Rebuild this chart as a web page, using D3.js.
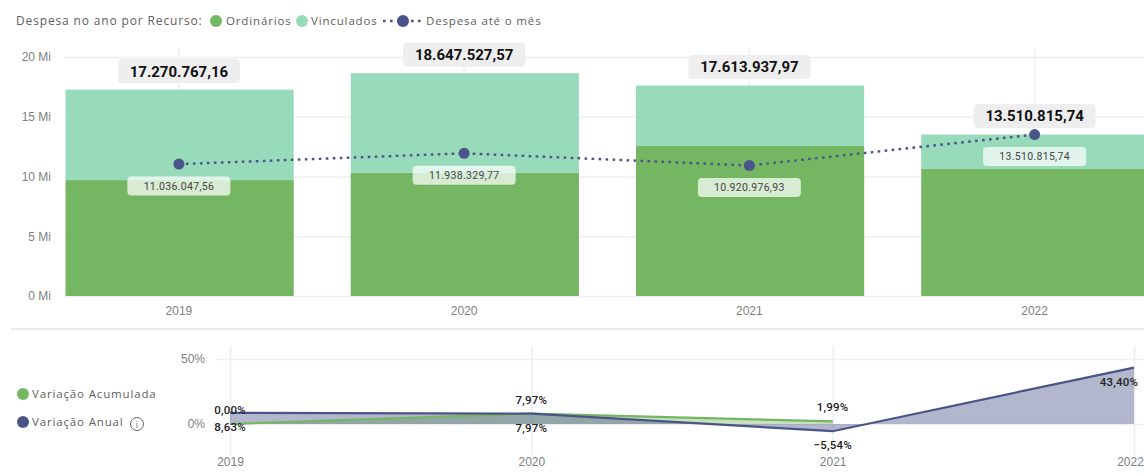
<!DOCTYPE html>
<html>
<head>
<meta charset="utf-8">
<script src="https://cdn.jsdelivr.net/npm/d3@7"></script>
<style>
body { margin: 0; background: #fff; overflow: hidden; }
svg { display: block; font-family: 'Open Sans', sans-serif; }
.axis path { display: none; }
.axis line { stroke: #efefef; stroke-width: 1.5px; }
.axis text { fill: #808080; font-size: 12px; }
.legend { fill: #606060; font-size: 11.5px; letter-spacing: .85px; }
.total { font-family: Roboto, sans-serif; font-weight: 700; font-size: 15px; fill: #111; text-anchor: middle; }
.lineLabel { font-family: Roboto, sans-serif; font-size: 10.5px; fill: #444; text-anchor: middle; letter-spacing: .3px; }
.pct { font-family: Roboto, sans-serif; font-weight: 500; font-size: 11.5px; fill: #222; text-anchor: middle; letter-spacing: .2px; }
</style>
</head>
<body>
<div id="chart"></div>
<script>
const years = ['2019', '2020', '2021', '2022']
const ordinarios = [9700000, 10300000, 12550000, 10630000]
const vinculados = [7570767.16, 8347527.57, 5063937.97, 2880815.74]
const totais = [17270767.16, 18647527.57, 17613937.97, 13510815.74]
const despesaMes = [11036047.56, 11938329.77, 10920976.93, 13510815.74]
const variacaoAnual = [8.63, 7.97, -5.54, 43.40]
const variacaoAcum = [0, 7.97, 1.99]
const yTicks = [0, 5, 10, 15, 20]
const pctTicks = [0, 50]

const green = '#74b662', mint = '#98dbbb', navy = '#4a5488'

const width = 1144, height = 476

const svg = d3.select('#chart').append('svg')
	.attr('width', width)
	.attr('height', height)

const br = d3.formatLocale({ decimal: ',', thousands: '.', grouping: [3], currency: ['R$', ''] })
const money = br.format(',.2f')
const pct = br.format('.2f')

// top chart
const x = d3.scaleBand().domain(years).range([65.5, 1149.4]).paddingInner(0.2)
const y = d3.scaleLinear().domain([0, 20000000]).range([296, 57])

svg.append('g')
	.attr('class', 'axis')
	.attr('transform', 'translate(65,0)')
	.call(d3.axisLeft(y).tickValues(yTicks.map(d => d * 1e6)).tickSize(-1079).tickPadding(14).tickFormat(d => (d / 1e6) + ' Mi'))

const xAxis = svg.append('g')
	.attr('class', 'axis')
	.attr('transform', 'translate(-0.7,296)')
	.call(d3.axisBottom(x).tickSize(-248).tickPadding(8))
xAxis.selectAll('text').attr('dy', '0.95em')

const rows = years.map((year, i) => ({ year, ordinarios: ordinarios[i], vinculados: vinculados[i] }))
const stack = d3.stack().keys(['ordinarios', 'vinculados'])(rows)
const colors = { ordinarios: green, vinculados: mint }

svg.append('g').selectAll('g')
	.data(stack)
	.join('g')
	.attr('fill', d => colors[d.key])
	.selectAll('rect')
	.data(d => d)
	.join('rect')
	.attr('x', d => x(d.data.year))
	.attr('y', d => y(d[1]))
	.attr('width', x.bandwidth())
	.attr('height', d => y(d[0]) - y(d[1]))

const cx = d => x(d) + x.bandwidth() / 2 - 0.7

const line = d3.line().x((d, i) => cx(years[i])).y(d => y(d))

svg.append('path')
	.attr('d', line(despesaMes))
	.attr('fill', 'none')
	.attr('stroke', navy)
	.attr('stroke-width', 2.4)
	.attr('stroke-dasharray', '2.6 4.4')

svg.append('g').selectAll('circle')
	.data(despesaMes)
	.join('circle')
	.attr('cx', (d, i) => cx(years[i]))
	.attr('cy', d => y(d))
	.attr('r', 5.5)
	.attr('fill', navy)

// labels of the line
const lineLabels = svg.append('g').selectAll('g')
	.data(despesaMes)
	.join('g')
	.attr('transform', (d, i) => `translate(${cx(years[i])},${y(d) + 22})`)
lineLabels.append('rect')
	.attr('x', -51.5).attr('y', -9.5).attr('width', 103).attr('height', 19).attr('rx', 4)
	.attr('fill', '#fff').attr('fill-opacity', 0.72)
lineLabels.append('text')
	.attr('class', 'lineLabel')
	.attr('dy', '0.36em')
	.text(d => money(d))

// totals
const totalLabels = svg.append('g').selectAll('g')
	.data(totais)
	.join('g')
	.attr('transform', (d, i) => `translate(${cx(years[i])},${y(d) - 18.5})`)
totalLabels.append('rect')
	.attr('x', -61).attr('y', -12).attr('width', 122).attr('height', 24).attr('rx', 4)
	.attr('fill', '#eeeeee')
totalLabels.append('text')
	.attr('class', 'total')
	.attr('dy', '0.36em')
	.text(d => money(d))

// legend
svg.append('text').attr('class', 'legend').attr('x', 16).attr('y', 25).style('font-size', '12px').text('Despesa no ano por Recurso:')
svg.append('circle').attr('cx', 216).attr('cy', 21).attr('r', 6).attr('fill', green)
svg.append('text').attr('class', 'legend').attr('x', 226).attr('y', 25).text('Ordinários')
svg.append('circle').attr('cx', 302).attr('cy', 21).attr('r', 6).attr('fill', mint)
svg.append('text').attr('class', 'legend').attr('x', 311).attr('y', 25).text('Vinculados')
svg.append('line').attr('x1', 383).attr('x2', 422).attr('y1', 21).attr('y2', 21)
	.attr('stroke', navy).attr('stroke-width', 2.4).attr('stroke-dasharray', '2.6 4.4')
svg.append('circle').attr('cx', 403).attr('cy', 21).attr('r', 6).attr('fill', navy)
svg.append('text').attr('class', 'legend').attr('x', 426).attr('y', 25).text('Despesa até o mês')

// separator
svg.append('line').attr('x1', 11).attr('x2', width).attr('y1', 329).attr('y2', 329)
	.attr('stroke', '#e9e9e9').attr('stroke-width', 2)

// bottom chart
const x2 = d3.scalePoint().domain(years).range([230, 1134])
const y2 = d3.scaleLinear().domain([0, 50]).range([424, 359])

svg.append('g')
	.attr('class', 'axis')
	.attr('transform', 'translate(217,0)')
	.call(d3.axisLeft(y2).tickValues(pctTicks).tickSize(-927).tickPadding(12).tickFormat(d => d + '%'))

const x2Axis = svg.append('g')
	.attr('class', 'axis')
	.attr('transform', 'translate(0,455)')
	.call(d3.axisBottom(x2).tickSize(-109).tickPadding(0))
x2Axis.selectAll('text').attr('dy', '0.95em')
	.attr('dx', d => d === '2022' ? -4 : 0)

const area = d3.area().x((d, i) => x2(years[i])).y0(y2(0)).y1(d => y2(d))
const line2 = d3.line().x((d, i) => x2(years[i])).y(d => y2(d))

svg.append('path').attr('d', area(variacaoAcum)).attr('fill', green).attr('fill-opacity', 0.4)
svg.append('path').attr('d', area(variacaoAnual)).attr('fill', navy).attr('fill-opacity', 0.42)
svg.append('path').attr('d', line2(variacaoAcum)).attr('fill', 'none').attr('stroke', green).attr('stroke-width', 2.2)
svg.append('path').attr('d', line2(variacaoAnual)).attr('fill', 'none').attr('stroke', navy).attr('stroke-width', 2.2)

// value labels: Acumulada above its point, Anual below
svg.append('g').selectAll('text')
	.data(variacaoAcum)
	.join('text')
	.attr('class', 'pct')
	.attr('x', (d, i) => x2(years[i]))
	.attr('y', d => y2(d))
	.attr('dy', -10)
	.text(d => pct(d) + '%')
svg.append('g').selectAll('text')
	.data(variacaoAnual)
	.join('text')
	.attr('class', 'pct')
	.attr('x', (d, i) => x2(years[i]))
	.attr('y', d => y2(d))
	.attr('dx', (d, i) => i === 3 ? -15 : 0)
	.attr('dy', 18)
	.text(d => pct(d) + '%')

// bottom legend
svg.append('circle').attr('cx', 23).attr('cy', 394).attr('r', 6).attr('fill', green)
svg.append('text').attr('class', 'legend').attr('x', 32).attr('y', 398).text('Variação Acumulada')
svg.append('circle').attr('cx', 23).attr('cy', 422).attr('r', 6).attr('fill', navy)
svg.append('text').attr('class', 'legend').attr('x', 32).attr('y', 426).text('Variação Anual')
svg.append('circle').attr('cx', 137).attr('cy', 424).attr('r', 6.5).attr('fill', 'none').attr('stroke', '#666')
svg.append('text').attr('x', 137).attr('y', 427.5).attr('text-anchor', 'middle').attr('font-size', 9).attr('fill', '#666').text('i')
</script>
</body>
</html>
